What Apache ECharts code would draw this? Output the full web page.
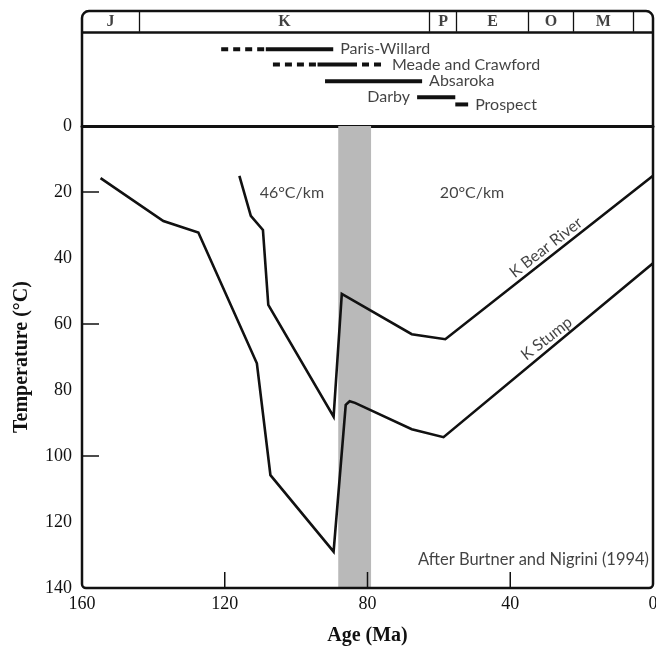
<!DOCTYPE html>
<html>
<head>
<meta charset="utf-8">
<script src="https://cdn.jsdelivr.net/npm/echarts@6/dist/echarts.min.js"></script>
<style>
  html, body { margin: 0; padding: 0; background: #fff; }
  #chart { width: 656px; height: 647px; }
</style>
</head>
<body>
<div id="chart"></div>
<script>
// geologic periods along the top strip (ages in Ma, left to right)
const periodBounds = [160, 144, 62.6, 55, 34.9, 22.3, 5.6, 0];
const periodNames = ['J', 'K', 'P', 'E', 'O', 'M', ''];

// thrust belt activity ranges, row = line in the top strip
const rangeNames = ['Paris-Willard', 'Meade and Crawford', 'Absaroka', 'Darby', 'Prospect'];
const rangeRows = [2.4, 3.35, 4.4, 5.4, 5.85];
const rangeSolid = [[[108.5, 89.6]], [[94, 84.9]], [[91.9, 64.7]], [[66.1, 55.4]], [[55.4, 51.8]]];
const rangeDashed = [[[121, 108.5]], [[106.5, 94], [84.9, 75.1]], [], [], []];

// burial temperature histories
const stumpAge = [154.8, 137.2, 127.4, 111.0, 107.2, 89.5, 86.1, 85.0, 83.5, 67.6, 58.7, 0];
const stumpTemp = [15.8, 28.8, 32.3, 71.9, 105.8, 129.0, 84.5, 83.4, 83.9, 91.9, 94.3, 41.6];
const bearAge = [115.9, 112.7, 109.3, 107.8, 89.5, 87.2, 67.6, 58.2, 0];
const bearTemp = [15.1, 27.2, 31.5, 54.2, 88.1, 50.9, 63.1, 64.6, 15.1];

// shaded interval
const bandAges = [88.2, 79.0];

// axis ticks that carry a mark
const ageTicks = [120, 80, 40];
const tempTicks = [20, 60, 100];

// text notes inside the plot: [text, age, temperature]
const notes = [
    ['46°C/km', 101.2, 20.4],
    ['20°C/km', 50.7, 20.4],
    ['K Bear River', 30.0, 36.8],
    ['K Stump', 29.8, 64.4]
];
const credit = ['After Burtner and Nigrini (1994)', 0, 131.5];

const serif = '"Liberation Serif", "Times New Roman", serif';
const sans = 'Lato, "Noto Sans", sans-serif';
const ink = '#111';

const chart = echarts.init(document.getElementById('chart'));

const series = [];

// gray band
series.push({
    type: 'line', xAxisIndex: 0, yAxisIndex: 0, data: [], z: 1,
    markArea: {
        silent: true,
        itemStyle: { color: '#b9b9b9' },
        data: [[{ xAxis: bandAges[0] }, { xAxis: bandAges[1] }]]
    }
});

function zip(a, b) { return a.map((v, i) => [v, b[i]]); }

series.push({
    name: 'K Stump', type: 'line', xAxisIndex: 0, yAxisIndex: 0, z: 3,
    data: zip(stumpAge, stumpTemp), symbol: 'none',
    lineStyle: { color: ink, width: 2.6, join: 'miter' }
});
series.push({
    name: 'K Bear River', type: 'line', xAxisIndex: 0, yAxisIndex: 0, z: 3,
    data: zip(bearAge, bearTemp), symbol: 'none',
    lineStyle: { color: ink, width: 2.6, join: 'miter' }
});

// notes
notes.forEach(n => {
    const rot = n[0].startsWith('K ') ? 38 : 0;
    series.push({
        type: 'scatter', xAxisIndex: 0, yAxisIndex: 0, z: 4, silent: true,
        symbolSize: 0, data: [[n[1], n[2]]],
        label: {
            show: true, position: 'inside', formatter: n[0], rotate: rot,
            fontFamily: sans, fontSize: 16, color: ink
        }
    });
});
series.push({
    type: 'scatter', xAxisIndex: 0, yAxisIndex: 0, z: 4, silent: true,
    symbolSize: 0, data: [[credit[1], credit[2]]],
    label: {
        show: true, position: 'left', distance: 4, formatter: credit[0],
        fontFamily: sans, fontSize: 16.5, color: ink
    }
});

// period strip
const barRow = 1.3;
series.push({
    type: 'line', xAxisIndex: 1, yAxisIndex: 1, data: [], z: 3,
    markLine: {
        silent: true, symbol: 'none', label: { show: false },
        lineStyle: { color: ink, type: 'solid', width: 1.3 },
        data: periodBounds.slice(1, -1).map(b => [{ coord: [b, 0] }, { coord: [b, barRow] }])
            .concat([{ yAxis: barRow, lineStyle: { width: 2.5 } }])
    }
});
series.push({
    type: 'scatter', xAxisIndex: 1, yAxisIndex: 1, symbolSize: 0, silent: true,
    data: periodNames.map((p, i) => ({ value: [(periodBounds[i] + periodBounds[i + 1]) / 2, barRow / 2], name: p })),
    label: {
        show: true, position: 'inside', formatter: '{b}',
        fontFamily: serif, fontWeight: 'bold', fontSize: 16, color: ink
    }
});

// activity ranges
rangeNames.forEach((name, i) => {
    const row = rangeRows[i];
    rangeSolid[i].forEach(s => series.push({
        type: 'line', xAxisIndex: 1, yAxisIndex: 1, symbol: 'none', z: 3,
        data: [[s[0], row], [s[1], row]],
        lineStyle: { color: ink, width: 4, cap: 'butt' }
    }));
    rangeDashed[i].forEach(s => series.push({
        type: 'line', xAxisIndex: 1, yAxisIndex: 1, symbol: 'none', z: 3,
        data: [[s[0], row], [s[1], row]],
        lineStyle: { color: ink, width: 4, type: [7, 5], cap: 'butt' }
    }));
    const segs = rangeSolid[i].concat(rangeDashed[i]).flat();
    const leftLabel = name === 'Darby';
    const anchor = leftLabel ? Math.max(...segs) : Math.min(...segs);
    series.push({
        type: 'scatter', xAxisIndex: 1, yAxisIndex: 1, symbolSize: 0, silent: true,
        data: [{ value: [anchor, row], name: name }],
        label: {
            show: true, position: leftLabel ? 'left' : 'right', distance: 7,
            formatter: '{b}', fontFamily: sans, fontSize: 16, color: ink
        }
    });
});

const option = {
    backgroundColor: '#fff',
    animation: false,
    grid: [
        { left: 82, right: 3, top: 126, bottom: 59, outerBoundsMode: 'none', containLabel: false },
        { left: 82, right: 3, top: 11, height: 115, outerBoundsMode: 'none', containLabel: false }
    ],
    xAxis: [
        {
            type: 'value', gridIndex: 0, min: 0, max: 160, interval: 40, inverse: true,
            position: 'bottom',
            axisLine: { show: false, onZero: false },
            axisTick: { show: false },
            splitLine: { show: false },
            axisLabel: { fontFamily: serif, fontSize: 18, color: ink, margin: 7 },
            name: 'Age (Ma)', nameLocation: 'middle', nameGap: 38,
            nameTextStyle: { fontFamily: serif, fontWeight: 'bold', fontSize: 20, color: ink }
        },
        {
            type: 'value', gridIndex: 1, min: 0, max: 160, inverse: true,
            position: 'bottom',
            axisLine: { show: true, onZero: false, lineStyle: { color: ink, width: 3 } },
            axisTick: { show: false }, axisLabel: { show: false }, splitLine: { show: false }
        }
    ],
    yAxis: [
        {
            type: 'value', gridIndex: 0, min: 0, max: 140, interval: 20, inverse: true,
            position: 'left',
            axisLine: { show: false, onZero: false },
            axisTick: { show: false },
            splitLine: { show: false },
            axisLabel: { fontFamily: serif, fontSize: 18, color: ink, margin: 10 },
            name: 'Temperature (°C)', nameLocation: 'middle', nameGap: 50, nameRotate: 90,
            nameTextStyle: { fontFamily: serif, fontWeight: 'bold', fontSize: 20, color: ink }
        },
        {
            type: 'value', gridIndex: 1, min: 0, max: 7.2, inverse: true, show: false
        }
    ],
    series: series
};

chart.setOption(option);

// outer frame and inward ticks, placed from the axes' own scales
const main = { xAxisIndex: 0, yAxisIndex: 0 };
const tl = chart.convertToPixel({ xAxisIndex: 1, yAxisIndex: 1 }, [160, 0]);
const br = chart.convertToPixel(main, [0, 140]);
const tickStyle = { stroke: ink, lineWidth: 1.5 };
const ticks = [];
ageTicks.forEach(a => {
    const p = chart.convertToPixel(main, [a, 140]);
    ticks.push({ type: 'line', silent: true, z: 20,
        shape: { x1: p[0], y1: p[1], x2: p[0], y2: p[1] - 16 }, style: tickStyle });
});
tempTicks.forEach(t => {
    const p = chart.convertToPixel(main, [160, t]);
    ticks.push({ type: 'line', silent: true, z: 20,
        shape: { x1: p[0], y1: p[1], x2: p[0] + 17, y2: p[1] }, style: tickStyle });
});
chart.setOption({
    graphic: [{
        type: 'rect', silent: true, z: 10,
        shape: { x: tl[0], y: tl[1], width: br[0] - tl[0], height: br[1] - tl[1], r: [7, 7, 4, 4] },
        style: { fill: 'none', stroke: ink, lineWidth: 2.5 }
    }].concat(ticks)
});
</script>
</body>
</html>
